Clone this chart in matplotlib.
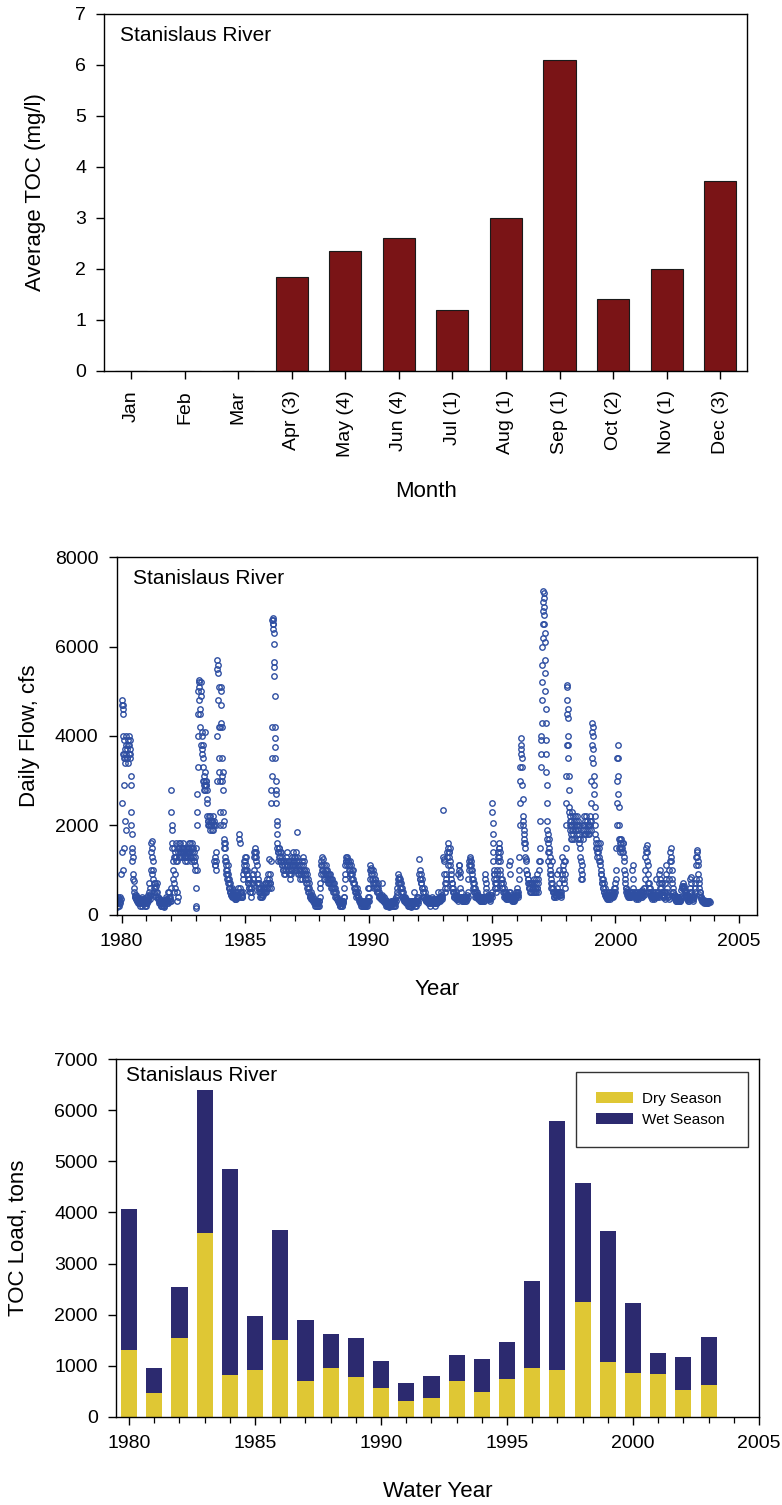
import numpy as np
import matplotlib
matplotlib.use("Agg")
import matplotlib.pyplot as plt
from matplotlib.patches import Patch
from matplotlib.ticker import MultipleLocator

plt.rcParams['font.family'] = ['Liberation Sans', 'DejaVu Sans']

# ---------------- datos: TOC medio mensual ----------------
meses = ["Jan", "Feb", "Mar", "Apr (3)", "May (4)", "Jun (4)", "Jul (1)",
         "Aug (1)", "Sep (1)", "Oct (2)", "Nov (1)", "Dec (3)"]
toc_medio = [0, 0, 0, 1.83, 2.35, 2.6, 1.2, 3.0, 6.1, 1.4, 2.0, 3.73]

# ---------------- datos: caudal diario (lecturas quincenales) ----------------
# cada token = una quincena; varios valores separados por "/"
flow_start = 1979.75
flow_1979 = "200/300/250 180/250/350 300/200/400 250/350/200 300/400/250 350/900/1400"
flow_1980s = [
    # 1980
    "2500/4700/4800/4600 4700/4500/4000/3600/1000/1500 3900/3600/3500/2900/2100 3700/3500/3400/1900 "
    "3600/3800/4000/3500 3700/3500/3400 3800/3900/3600 4000/3800/3700/3500 3900/3600/3100/2900 "
    "2300/2000/1800/1500 1400/1200/1300/900 800/750/600 500/450/400 400/350/450 350/300/400 "
    "300/350/250 300/250/350 250/300/200 300/250/350 250/300/200 400/350/300 350/300/250 300/250/200 250/300/200",
    # 1981
    "300/250/400 350/450/300 500/400/700 600/450/350 1000/1400/1600 1650/1500/1300/900 1200/1000/800 "
    "700/600/500 600/700/450 500/400/650 700/500/400 400/350/300 300/250/350 250/300/200 200/250/300 "
    "250/200/300 200/250/180 250/200/300 300/250/350 400/300/250 350/300/500 300/250/400 500/350/300 400/600/300",
    # 1982
    "2800/2300/1900/1500 2000/1600/1200/800 1000/700/500/1300 1500/1300/900/600 1400/1600/1200 "
    "1300/500/300 1200/400/1500 1400/1600/1300 1500/1400/1300 1600/1400/1500 1500/1300/1400 "
    "1400/1600/1500 1300/1500/1400 1400/1300/1200 1500/1400/1300 1300/1200/1400 1400/1300/1500 "
    "1500/1400/1600 1600/1400/1300 1500/1300/1200 1400/1600/1500 1300/1500/1200 1400/1200/1000 1300/1100/1500",
    # 1983
    "200/150/600/1000 2000/2300/2700/3300 4000/4500/5000/5200 5250/5100/4800/4600 4500/4200/3800/5000 "
    "5200/4900/4100/3700 4000/3600/3300/3000 3500/3800/3100/2900 3000/2800/2900/4100 3200/2800/3000/2900 "
    "2900/3000/2800/2600 2500/2200/2100/2000 2100/2000/2200 2000/2100/1900 2200/2000/2100 2000/1900/2100 "
    "2100/2000/2200 1900/2000/2100 1200/1100/1300 1100/1000/1200/1400 2000/3000/4000/5500 "
    "5700/5600/5400/4800 5100/4200/3500/3200 2300/2000/3000/4200",
    # 1984
    "5100/5000/4700/4300 4200/3500/3100/3000 3200/2800/2300/2000 2100/1700/1600/1500 1600/1500/1300/1200 "
    "1100/1000/1200/900 1000/900/800/1100 800/700/900/600 700/600/800/500 600/500/700/450 500/450/600 "
    "450/400/550 400/500/450 450/400/350 400/350/500 350/400/450 500/400/450 450/600/400 "
    "1800/1700/1600/500 600/500/400 500/450/400 400/500/800 900/1000/1100 1200/1300/1000",
    # 1985
    "1200/1300/1000 1100/900/1000 900/700/800 700/600/800 600/500/700 500/600/400 600/700/500 "
    "800/900/700 1000/1300/1400 1500/1400/1300 1300/1200/1400 1100/900/700 700/600/800 600/500/700 "
    "500/600/400 400/500/600 500/400/450 450/500/600 500/600/700 600/500/700 700/500/600 600/800/700 "
    "700/900/600 800/1250/700",
    # 1986
    "900/700/600 1200/2500/2800/3100 3500/4200/6600/6500/6400 6650/6600/6500/6300/6050 "
    "5650/5550/5350/4900/4200 3950/3750/3500/3000/2800 2700/2500/2100/2000/1800 1600/1500/1400/1200 "
    "1400/1500/1300 1500/1400/1200 1300/1200/1400 1200/1100/1300 1100/1000/1200 1000/900/1100 "
    "1200/1000/900 1100/1300/1000 1200/1400/1100 1100/1000/1200 1000/1200/900 900/1100/800 "
    "1000/900/1200 1100/1300/1000 1200/1400/1100 1300/1200/1100",
    # 1987
    "1300/1100/1000 1200/1400/1000 1850/1300/1100 1200/1000/900 1100/900/1000 1000/800/900 "
    "900/1100/800 1000/1200/900 1300/1100/1000 1200/1000/900 900/800/1000 800/700/900 700/600/800 "
    "600/500/700 500/600/400 450/400/500 400/350/450 350/300/400 300/250/350 300/250/200 250/300/200 "
    "250/200/300 300/250/200 250/300/200",
    # 1988
    "300/400/600 700/900/1100 1200/1300/1000 1100/1250/900 1000/1100/800 900/1000/800 1000/1100/900 "
    "900/800/1000 800/900/700 800/700/900 900/800/700 700/800/600 700/600/800 600/700/500 600/500/700 "
    "500/600/400 400/500/350 350/400/300 300/350/250 250/300/200 250/200/300 220/250/200 250/200/300 300/250/400",
    # 1989
    "400/600/800 900/1100/1200 1300/1200/1250 1300/1100/1200 1200/1000/1100 1100/900/1200 "
    "1000/1100/800 900/1000/800 900/700/1000 800/700/600 700/600/500 600/500/400 500/450/600 "
    "450/400/500 400/350/300 350/300/250 300/250/200 250/200/300 200/250/220 250/200/300 "
    "220/250/200 200/250/300 250/200/300 400/300/600",
]
flow_1990s = [
    # 1990
    "300/400/600 800/1000/1100 1050/900/1000 900/800/1000 800/700/900 700/600/800 800/700/600 "
    "600/700/500 600/500/700 500/600/400 500/400/450 400/450/350 400/350/700 450/400/350 350/300/400 "
    "300/350/250 250/300/200 250/200/300 220/200/250 200/250/180 220/200/250 250/200/300 200/250/300 250/300/200",
    # 1991
    "250/200/300 300/250/200 350/300/400 500/600/450 700/800/900 850/800/700 700/600/800 600/500/700 "
    "500/400/600 400/500/350 400/350/300 350/300/400 300/250/350 250/300/200 300/250/200 250/200/300 "
    "200/250/180 250/200/300 300/200/250 250/300/500 300/250/200 250/300/200 300/250/400 350/300/250",
    # 1992
    "400/300/900 1250/1000/800 800/700/900 700/600/800 600/500/400 500/400/600 400/350/500 350/300/400 "
    "300/400/350 350/300/250 300/250/350 250/300/200 300/250/350 250/300/400 350/300/250 300/250/350 "
    "250/300/200 300/250/350 350/300/250 300/350/500 400/300/350 350/400/300 400/350/500 450/400/350",
    # 1993
    "2350/1300/1200 1250/900/700 600/500/700 800/900/600 1300/1400/1100 1500/1600/1400 1400/1300/1500 "
    "1200/1100/1000 900/800/700 700/600/500 600/500/400 500/400/450 400/350/500 450/400/350 400/350/300 "
    "900/1000/1100 1100/950/850 600/500/400 400/350/300 350/300/400 300/350/400 400/350/300 "
    "350/400/300 400/350/450",
    # 1994
    "500/400/800 1000/1100/1200 1300/1250/1100 1200/1100/1000 1000/900/800 800/700/600 600/500/700 "
    "500/600/400 500/400/450 450/400/500 400/350/450 400/350/300 350/400/300 300/350/400 350/300/400 "
    "400/350/300 300/350/400 800/900/700 600/500/400 400/350/450 400/450/350 350/400/300 400/350/450 450/400/500",
    # 1995
    "2500/2300/2050/1800/1600 1400/1200/1000/900 900/800/700/600 600/500/700/800 700/600/900 "
    "1000/1200/1300 1400/1600/1500/1300 1500/1400/1200/1000 900/800/700 700/600/800 600/700/500 "
    "500/600/400 450/500/400 400/500/350 400/450/350 450/400/350 500/400/1100 1200/900/500 "
    "450/400/350 400/350/300 350/400/300 300/350/400 400/350/450 500/400/450",
    # 1996
    "600/500/450 500/400/800 1000/1300/2000 2500/3000/3300/3600 3800/3950/3700/3500 "
    "3300/2900/2600/2200 2100/2000/1800/1600 1900/1700/1500 1600/1300/1250 1200/1000/900 "
    "900/800/700 800/700/600 600/700/500 600/500/700 500/600/700 700/600/500 600/500/800 "
    "700/500/600 600/500/700 800/900/600 600/500/700 800/1200/1000 1500/2100/1200 3300/3600/3900/4000",
    # 1997
    "4300/4800/5200/5600/6000 6200/6500/6800/7000/7250 7200/7100/6900/6700/6500 6300/6100/5700/5400/5000 "
    "4600/4300/3900/3600/3200 2900/2500/2100/1900/1700 1800/1600/1400/1200 1500/1700/1400/1100 "
    "1300/1000/900/800 900/700/600/1200 700/600/500 600/500/400 500/400/450 450/500/400 500/450/900 "
    "600/500/450 500/450/1000 700/500/450 500/450/400 450/500/800 900/1300/1100 1000/800/1200 "
    "700/600/900 1200/1500/2000",
    # 1998
    "2500/3100/3800/4500/5100 5150/4800/4600/4400/4000 3800/3500/3100/2800/2400 2300/2100/2000/1900 "
    "2200/2000/1800/1700 2100/1900/2300/1700 2000/2200/1800 1900/2100/1700 2000/2200/1900 "
    "2100/1900/2000 2000/1800/2200 1900/2100/1700 1800/2000/1600 1700/1500/1300 1200/1000/800 "
    "800/900/1100 1700/1900/2000 2000/2200/1800 1900/2100/1800 2000/1800/2200 2100/1900/2000 "
    "1800/2000/1900 2000/1800/2100 2200/2000/1900",
    # 1999
    "2100/2500/3000/3500 3800/4100/4300/4200 4000/3700/3400/3100 2900/2700/2400/2200 2000/1800/1700 "
    "1600/1500/1400 1500/1300/1600 1400/1200/1500 1300/1100/1600 1200/1000/900 900/800/700 700/600/800 "
    "600/500/700 500/450/600 450/400/500 400/450/350 400/350/450 350/400/500 400/450/350 450/400/500 "
    "500/450/400 450/500/400 500/450/600 600/500/700",
]
flow_2000s = [
    # 2000
    "800/1000/1500 2000/2500/3000/3500 3800/3500/3100/2700 2400/2000/1700/1500 1600/1700/1500/1400 "
    "1600/1500/1700 1500/1400/1600 1400/1600/1300 1200/1000/900 800/700/600 600/500/550 500/450/400 "
    "450/500/400 400/450/500 500/400/450 450/400/500 500/1000/1100 800/600/500 450/400/500 400/450/350 "
    "450/400/500 400/450/350 450/500/400 400/450/500",
    # 2001
    "450/400/500 500/450/400 550/500/450 500/450/600 600/800/1000 1300/1500/1400 1550/1400/1200 "
    "1100/900/700 600/500/700 500/450/600 450/400/500 400/450/350 450/400/500 400/450/350 500/400/450 "
    "450/800/400 400/500/450 500/450/400 700/900/600 1000/800/700 600/500/700 500/450/400 450/400/500 400/450/350",
    # 2002
    "500/700/900 1100/800/600 500/450/400 450/400/350 800/1000/1200 1400/1500/1300 1200/1000/800 "
    "700/600/500 500/450/400 400/350/450 350/400/300 300/350/400 350/300/400 400/350/300 350/400/300 "
    "300/350/400 550/600/650 700/650/600 600/550/650 500/450/550 450/400/500 400/350/450 350/300/400 400/350/300",
    # 2003
    "500/600/800 850/700/500 400/350/450 350/300/400 400/450/500 600/700/800 1100/1300/1450 "
    "1400/1300/1200 1100/900/800 700/600/500 500/450/400 400/350/300 350/300/300 300/280/320 "
    "300/250/280 280/300/250 270/300/260 300/280/260 280/300 300/280",
]

# ---------------- datos: carga de TOC por año hidrológico ----------------
anios_agua = list(range(1980, 2004))
carga_seca = [1310, 460, 1540, 3590, 810, 910, 1510, 690, 960, 770, 570, 300,
              360, 690, 490, 730, 950, 920, 2250, 1080, 850, 830, 520, 630]
carga_total = [4060, 950, 2540, 6390, 4850, 1980, 3660, 1890, 1610, 1550, 1100, 660,
               790, 1210, 1130, 1470, 2660, 5790, 4580, 3630, 2220, 1240, 1170, 1570]

W, H = 782, 1505
fig = plt.figure(figsize=(W / 100, H / 100), dpi=100)


def caja(l, t, r, b):
    # caja en pixeles -> fracciones de la figura
    return [l / W, 1 - b / H, (r - l) / W, (b - t) / H]


def estilo(ax):
    for s in ax.spines.values():
        s.set_linewidth(1.0)
        s.set_color('black')
    ax.tick_params(which='major', direction='out', length=6, width=1.0, pad=7,
                   labelsize=14, top=False, right=False)
    ax.tick_params(which='minor', direction='out', length=4, width=0.9, top=False, right=False)


# ---------------- 1) TOC medio por mes ----------------
ax1 = fig.add_axes(caja(104.3, 14, 747, 370.7))
x = np.arange(len(meses))
ax1.bar(x, toc_medio, width=0.6, color='#7A1416', edgecolor='#1a1a1a', linewidth=0.8)
ax1.set_xlim(-0.5, len(meses) - 0.5)
ax1.set_ylim(0, 7)
ax1.set_xticks(x)
ax1.set_xticklabels(meses, rotation=90, fontsize=13)
ax1.set_yticks(range(0, 8))
estilo(ax1)
ax1.tick_params(axis='x', pad=8)
ax1.text(0.024, 0.941, "Stanislaus River", transform=ax1.transAxes, fontsize=15,
         ha='left', va='center')
ax1.set_ylabel("Average TOC (mg/l)", fontsize=16)
ax1.yaxis.set_label_coords(-0.09, 0.5)
ax1.set_xlabel("Month", fontsize=16)
ax1.xaxis.set_label_coords(0.5, -0.31)

# ---------------- 2) caudal diario ----------------
ax2 = fig.add_axes(caja(116.5, 557.4, 756.7, 914.6))
tokens = flow_1979.split()
for fila in flow_1980s + flow_1990s + flow_2000s:
    tokens += fila.split()
t_flow, q_flow = [], []
for i, tok in enumerate(tokens):
    vals = [float(v) for v in tok.split('/')]
    k = len(vals)
    for j, v in enumerate(vals):
        t_flow.append(flow_start + (i + (j + 0.5) / k) / 24.0)
        q_flow.append(v)
ax2.plot(t_flow, q_flow, linestyle='none', marker='o', markersize=3.9,
         markerfacecolor='none', markeredgecolor='#2F4FA2', markeredgewidth=1.0)
ax2.set_xlim(1979.79, 2005.72)
ax2.set_ylim(0, 8000)
ax2.xaxis.set_major_locator(MultipleLocator(5))
ax2.xaxis.set_minor_locator(MultipleLocator(1))
ax2.set_yticks(range(0, 8001, 2000))
estilo(ax2)
ax2.text(0.026, 0.942, "Stanislaus River", transform=ax2.transAxes, fontsize=15,
         ha='left', va='center')
ax2.set_ylabel("Daily Flow, cfs", fontsize=16)
ax2.yaxis.set_label_coords(-0.12, 0.5)
ax2.set_xlabel("Year", fontsize=16)
ax2.xaxis.set_label_coords(0.5, -0.18)

# ---------------- 3) carga de TOC ----------------
ax3 = fig.add_axes(caja(116, 1059.3, 759, 1416.7))
carga_humeda = [t - s for t, s in zip(carga_total, carga_seca)]
ax3.bar(anios_agua, carga_seca, width=0.64, color='#DFC734', label='Dry Season')
ax3.bar(anios_agua, carga_humeda, width=0.64, bottom=carga_seca, color='#2C2A6F',
        label='Wet Season')
ax3.set_xlim(1979.48, 2005)
ax3.set_ylim(0, 7000)
ax3.xaxis.set_major_locator(MultipleLocator(5))
ax3.xaxis.set_minor_locator(MultipleLocator(1))
ax3.set_yticks(range(0, 7001, 1000))
estilo(ax3)
ax3.text(0.016, 0.956, "Stanislaus River", transform=ax3.transAxes, fontsize=15,
         ha='left', va='center')
ax3.set_ylabel("TOC Load, tons", fontsize=16)
ax3.yaxis.set_label_coords(-0.135, 0.5)
ax3.set_xlabel("Water Year", fontsize=16)
ax3.xaxis.set_label_coords(0.5, -0.18)
hs = [Patch(facecolor='#DFC734'), Patch(facecolor='#2C2A6F')]
leg = ax3.legend(hs, ['Dry Season', 'Wet Season'], loc='upper left',
                 bbox_to_anchor=(0.7154, 0.7555, 0.2676, 0.2098), mode='expand',
                 fontsize=11, frameon=True, fancybox=False, borderpad=1.3,
                 labelspacing=0.45, handlelength=2.4, handleheight=0.8,
                 handletextpad=0.65, borderaxespad=0)
leg.get_frame().set_edgecolor('black')
leg.get_frame().set_linewidth(1.0)

fig.savefig("out.png", dpi=100)
